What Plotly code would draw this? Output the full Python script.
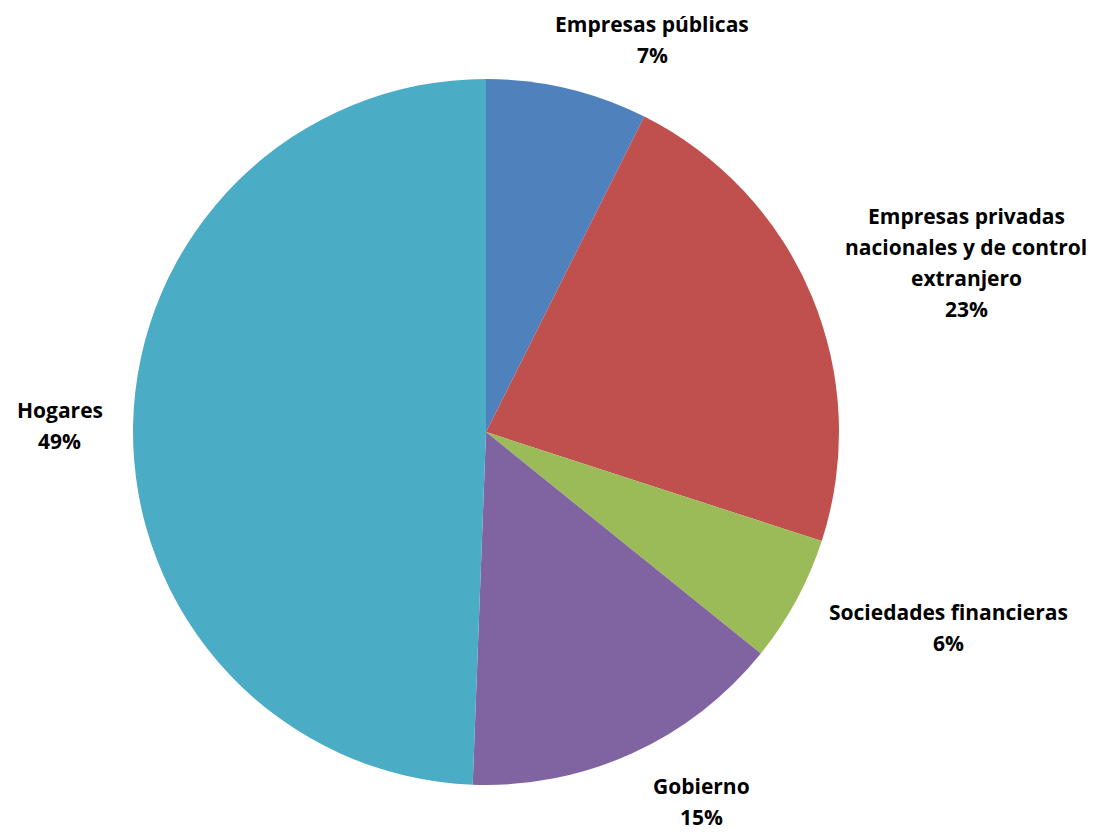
import plotly.graph_objects as go

categories = ["Empresas públicas",
              "Empresas privadas<br>nacionales y de control<br>extranjero",
              "Sociedades financieras",
              "Gobierno",
              "Hogares"]
values = [7.4, 22.6, 5.8, 14.8, 49.4]
colors = ["#4F81BD", "#C0504D", "#9BBB59", "#8064A2", "#4BACC6"]
# label block centres (pixels in the final picture) for the first line
label_pos = [(652, 24), (966, 216), (948, 612), (701, 786), (60, 410)]

W, H = 1101, 832
OFF = 8  # page body margin
cx, cy, r = 486 - OFF, 432 - OFF, 353

fig = go.Figure(go.Pie(
    labels=[c.replace("<br>", " ") for c in categories],
    values=values,
    marker=dict(colors=colors, line=dict(width=0)),
    sort=False,
    direction="clockwise",
    rotation=0,
    textinfo="none",
    hoverinfo="label+percent",
    showlegend=False,
    domain=dict(x=[(cx - r) / W, (cx + r) / W], y=[1 - (cy + r) / H, 1 - (cy - r) / H]),
))

total = sum(values)
annotations = []
for cat, v, (px, py) in zip(categories, values, label_pos):
    lines = cat.split("<br>") + [f"{round(v / total * 100)}%"]
    for i, line in enumerate(lines):
        annotations.append(dict(
            x=(px - OFF) / W, y=1 - (py - OFF + i * 31) / H, xref="paper", yref="paper",
            text=f"<b>{line}</b>", showarrow=False, xanchor="center", yanchor="middle",
            font=dict(family="Open Sans, Noto Sans, sans-serif", size=21, color="#000000"),
        ))

fig.update_layout(
    width=W, height=H,
    margin=dict(l=0, r=0, t=0, b=0),
    paper_bgcolor="white", plot_bgcolor="white",
    annotations=annotations,
)
fig.write_html("out.html")
